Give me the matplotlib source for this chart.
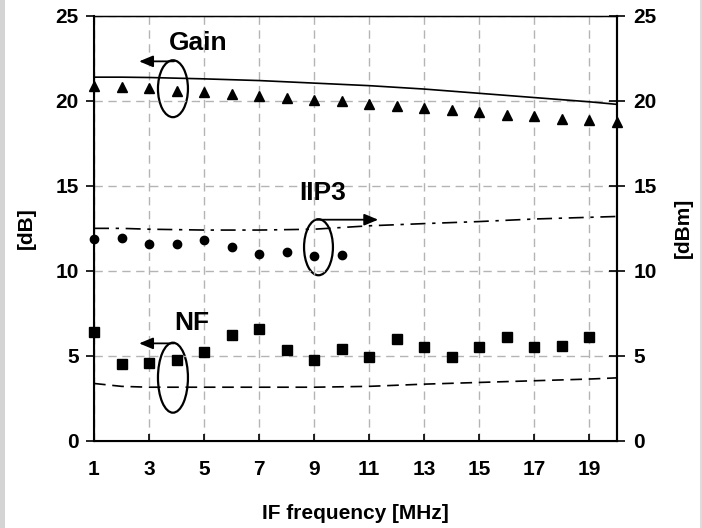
import numpy as np
import matplotlib
matplotlib.use("Agg")
import matplotlib.pyplot as plt
from matplotlib.patches import Ellipse, Rectangle

plt.rcParams['font.family'] = ['Liberation Sans', 'DejaVu Sans']
plt.rcParams['font.weight'] = 'bold'

# measured points
freq = np.arange(1, 21)
gain_meas = [20.9, 20.8, 20.75, 20.6, 20.5, 20.4, 20.3, 20.2, 20.05, 20.0,
             19.8, 19.7, 19.6, 19.45, 19.35, 19.2, 19.1, 18.95, 18.85, 18.75]
iip3_freq = np.arange(1, 11)
iip3_meas = [11.9, 11.95, 11.6, 11.6, 11.8, 11.4, 11.0, 11.1, 10.9, 10.95]
nf_freq = np.arange(1, 20)
nf_meas = [6.4, 4.5, 4.6, 4.75, 5.2, 6.2, 6.6, 5.33, 4.75, 5.38,
           4.95, 6.0, 5.5, 4.95, 5.5, 6.1, 5.5, 5.6, 6.1]

# simulated curves
sim_freq = [1, 2, 3, 5, 7, 9, 11, 13, 15, 17, 19, 20]
gain_sim = [21.4, 21.4, 21.38, 21.3, 21.2, 21.05, 20.9, 20.7, 20.45, 20.2, 19.95, 19.8]
iip3_sim = [12.5, 12.5, 12.45, 12.4, 12.4, 12.45, 12.65, 12.78, 12.9, 13.05, 13.15, 13.2]
nf_sim = [3.37, 3.2, 3.15, 3.15, 3.15, 3.15, 3.2, 3.33, 3.43, 3.53, 3.63, 3.7]

fig = plt.figure(figsize=(7.02, 5.28), dpi=100)
ax = fig.add_axes([0.1339, 0.1653, 0.7446, 0.8044])

# light frame strips at the figure edges
fig.patches.append(Rectangle((0, 0), 5 / 702, 1, transform=fig.transFigure,
                             facecolor='#d4d4d4', edgecolor='none'))
fig.patches.append(Rectangle((700 / 702, 0), 2 / 702, 1, transform=fig.transFigure,
                             facecolor='#dcdcdc', edgecolor='none'))

ax.plot(sim_freq, gain_sim, '-', color='black', lw=1.2)
ax.plot(sim_freq, iip3_sim, color='black', lw=1.2, dashes=[9, 4, 2, 4])
ax.plot(sim_freq, nf_sim, color='black', lw=1.2, dashes=[7, 4])

ax.plot(freq, gain_meas, '^', color='black', ms=7, clip_on=False, zorder=5)
ax.plot(iip3_freq, iip3_meas, 'o', color='black', ms=6, clip_on=False, zorder=5)
ax.plot(nf_freq, nf_meas, 's', color='black', ms=6.8, clip_on=False, zorder=5)

ax.set_xlim(1, 20)
ax.set_ylim(0, 25)
ax.set_xticks(np.arange(1, 20, 2))
ax.set_yticks(np.arange(0, 26, 5))
ax.grid(True, color='#b4b4b4', lw=1, dashes=[6, 4])

for s in ['left', 'bottom', 'right']:
    ax.spines[s].set_linewidth(1.5)
ax.spines['top'].set_linewidth(1.0)

ax.tick_params(axis='y', direction='out', length=6, width=1.2, labelsize=15, pad=5)
ax.tick_params(axis='x', direction='in', length=5, width=1.2, labelsize=15, pad=14)

ax2 = ax.twinx()
ax2.set_ylim(0, 25)
ax2.set_yticks(np.arange(0, 26, 5))
ax2.tick_params(axis='y', direction='inout', length=12, width=1.2, labelsize=15, pad=6)
ax2.spines['right'].set_linewidth(1.5)

ax.set_xlabel('IF frequency [MHz]', fontsize=15, fontweight='bold', labelpad=18)
ax.set_ylabel('[dB]', fontsize=15, fontweight='bold', labelpad=14)
ax2.set_ylabel('[dBm]', fontsize=15, fontweight='bold', labelpad=12)

arrow_kw = dict(arrowstyle='-|>,head_length=0.6,head_width=0.25', color='black',
                lw=1.3, mutation_scale=14, shrinkA=0, shrinkB=0)

# annotations
ax.text(4.78, 23.42, 'Gain', fontsize=19, fontweight='bold', ha='center', va='center')
ax.add_patch(Ellipse((3.87, 20.72), 1.09, 3.35, fill=False, lw=1.6, color='black'))
ax.annotate('', xy=(2.64, 22.33), xytext=(3.91, 22.33), arrowprops=arrow_kw)

ax.text(9.33, 14.56, 'IIP3', fontsize=19, fontweight='bold', ha='center', va='center')
ax.add_patch(Ellipse((9.16, 11.39), 1.05, 3.3, fill=False, lw=1.6, color='black'))
ax.annotate('', xy=(11.33, 13.01), xytext=(9.11, 13.01), arrowprops=arrow_kw)

ax.text(4.55, 6.9, 'NF', fontsize=19, fontweight='bold', ha='center', va='center')
ax.add_patch(Ellipse((3.87, 3.71), 1.09, 4.12, fill=False, lw=1.6, color='black'))
ax.annotate('', xy=(2.64, 5.73), xytext=(3.91, 5.73), arrowprops=arrow_kw)

fig.savefig('out.png', dpi=100)
